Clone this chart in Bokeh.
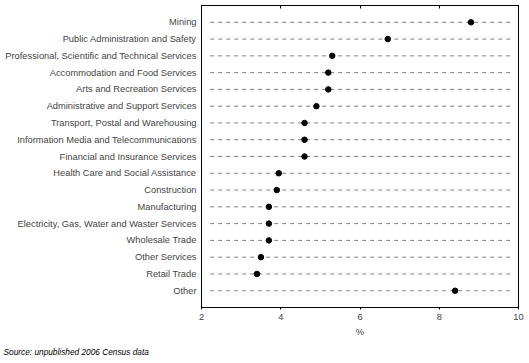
from bokeh.plotting import figure
from bokeh.models import (FactorRange, Range1d, LinearAxis, Title, FixedTicker,
                          ColumnDataSource, CustomLabelingPolicy)
from bokeh.embed import file_html
from bokeh.resources import INLINE

categories = [
    "Mining",
    "Public Administration and Safety",
    "Professional, Scientific and Technical Services",
    "Accommodation and Food Services",
    "Arts and Recreation Services",
    "Administrative and Support Services",
    "Transport, Postal and Warehousing",
    "Information Media and Telecommunications",
    "Financial and Insurance Services",
    "Health Care and Social Assistance",
    "Construction",
    "Manufacturing",
    "Electricity, Gas, Water and Waster Services",
    "Wholesale Trade",
    "Other Services",
    "Retail Trade",
    "Other",
]
values = [8.8, 6.7, 5.3, 5.2, 5.2, 4.9, 4.6, 4.6, 4.6, 3.95, 3.9, 3.7, 3.7, 3.7, 3.5, 3.4, 8.4]
x_ticks = [2, 4, 6, 8, 10]
x_label = "%"
source_text = "Source: unpublished 2006 Census data"

FONT = "Liberation Sans"

p = figure(
    width=529, height=363,
    frame_width=317, frame_height=302,
    y_range=FactorRange(factors=list(reversed(categories)), range_padding=1/17),
    x_range=Range1d(2, 10),
    output_backend="svg", toolbar_location=None,
    min_border_left=201, min_border_right=11, min_border_top=5, min_border_bottom=56,
    outline_line_color="black", outline_line_width=1,
    background_fill_color="white", border_fill_color="white",
)

p.xgrid.visible = False
p.ygrid.visible = False

src = ColumnDataSource(dict(cat=categories, val=values,
                            x0=[2.22] * len(categories), x1=[9.83] * len(categories)))
p.segment(x0="x0", x1="x1", y0="cat", y1="cat", source=src,
          line_color="#808080", line_width=1, line_dash="4 4")
p.scatter(x="val", y="cat", source=src, marker="circle", size=5.5,
          fill_color="black", line_color="black")

xa = p.xaxis[0]
xa.ticker = FixedTicker(ticks=x_ticks)
xa.axis_label = x_label
xa.axis_label_text_font = FONT
xa.axis_label_text_font_size = "9.3px"
xa.axis_label_text_font_style = "normal"
xa.axis_label_standoff = 4
xa.major_label_text_font = FONT
xa.major_label_text_font_size = "9.3px"
xa.major_label_standoff = 4
xa.major_tick_in = 0
xa.major_tick_out = 2
xa.minor_tick_in = 0
xa.minor_tick_out = 0
xa.axis_line_color = "black"
xa.major_tick_line_color = "black"

ya = p.yaxis[0]
ya.major_label_text_font = FONT
ya.major_label_text_font_size = "9.3px"
ya.major_label_standoff = 5
ya.major_tick_in = 0
ya.major_tick_out = 0
ya.axis_line_color = "black"

no_labels = CustomLabelingPolicy(code="""
    for (let i = 0; i < indices.size; i++) { indices.unset(i) }
    return indices
""")
top = LinearAxis(ticker=FixedTicker(ticks=x_ticks), major_label_policy=no_labels)
top.major_label_text_font_size = "1px"
top.major_label_standoff = 0
top.major_tick_in = 3
top.major_tick_out = 0
top.minor_tick_in = 0
top.minor_tick_out = 0
top.axis_line_color = "black"
p.add_layout(top, "above")

t = Title(text=source_text, align="left", text_font=FONT, text_font_size="8.3px",
          text_font_style="italic", text_color="black", standoff=10, offset=-198)
p.add_layout(t, "below")

open("out.html", "w").write(file_html(p, INLINE))
